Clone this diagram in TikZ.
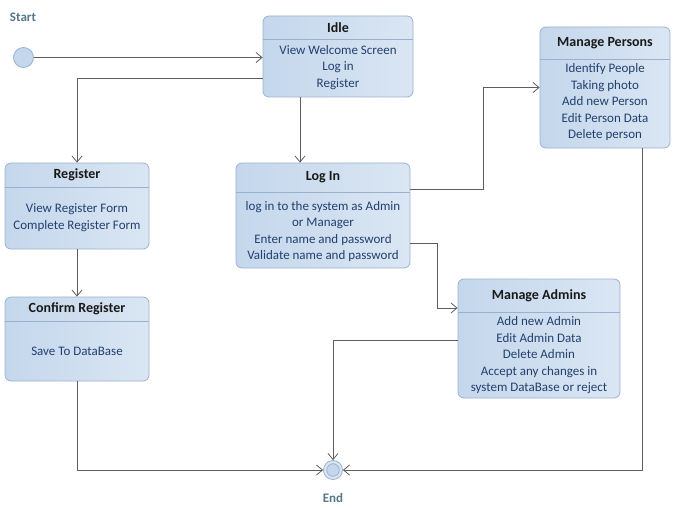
\documentclass[tikz,border=0pt]{standalone}
\usepackage{fontspec}
\setmainfont{Carlito}
\usepackage{tikz}
\usetikzlibrary{arrows.meta}
\definecolor{boxfill}{HTML}{C4D7EC}
\definecolor{boxfilllight}{HTML}{DAE6F3}
\definecolor{boxline}{HTML}{9AB1CD}
\definecolor{bodytext}{HTML}{22406E}
\definecolor{labeltext}{HTML}{56778A}
\definecolor{flowline}{HTML}{5E5E5E}
\tikzset{
  statebox/.style={draw=boxline,left color=boxfill,right color=boxfilllight,rounded corners=6pt,line width=0.8pt,inner sep=0pt},
  titlebar/.style={inner sep=0pt,anchor=north,font=\fontsize{14}{16}\selectfont\bfseries,text=black!90},
  bodytxt/.style={align=center,inner sep=0pt,text=bodytext,font=\fontsize{13}{16.5}\selectfont},
  divider/.style={draw=boxline,line width=0.7pt},
  flow/.style={draw=flowline,line width=0.8pt,-{Straight Barb[length=6pt,width=10pt]}},
  pseudo/.style={circle,draw=boxline,fill=boxfill,line width=0.8pt,minimum size=20pt,inner sep=0pt},
  pseudolabel/.style={text=labeltext,font=\fontsize{13}{15}\selectfont\bfseries}
}

\begin{document}
\begin{tikzpicture}[x=1pt,y=-1pt]
  \useasboundingbox (0,0) rectangle (674,508);
  % start and end
  \node[pseudolabel] (startlabel) at (23,17) {Start};
  \node[pseudo] (start) at (23.5,57.5) {};
  \node[pseudo,fill=boxfilllight,minimum size=19pt,
    path picture={\draw[boxline,fill=boxfill] (path picture bounding box.center) circle (6.3pt);}] (end) at (333,470) {};
  \node[pseudolabel] (endlabel) at (333,498) {End};
  % Idle
  \node[statebox,minimum width=150pt,minimum height=81pt] (idle) at (338,56.5) {};
  \node[titlebar,minimum width=150pt,minimum height=23pt] (idletitle) at (idle.north) {Idle};
  \draw[divider] (idletitle.south west) -- (idletitle.south east);
  \node[bodytxt] (idlebody) at (338,67.5) {View Welcome Screen\\Log in\\Register};
  % Manage Persons
  \node[statebox,minimum width=130pt,minimum height=121pt] (persons) at (605,87.5) {};
  \node[titlebar,minimum width=130pt,minimum height=32pt] (personstitle) at (persons.north) {Manage Persons};
  \draw[divider] (personstitle.south west) -- (personstitle.south east);
  \node[bodytxt] (personsbody) at (605,102.5) {Identify People\\Taking photo\\Add new Person\\Edit Person Data\\Delete person};
  % Register
  \node[statebox,minimum width=144pt,minimum height=86pt] (register) at (77,206) {};
  \node[titlebar,minimum width=144pt,minimum height=24pt] (registertitle) at (register.north) {Register};
  \draw[divider] (registertitle.south west) -- (registertitle.south east);
  \node[bodytxt] (registerbody) at (77,217.5) {View Register Form\\Complete Register Form};
  % Confirm Register
  \node[statebox,minimum width=144pt,minimum height=84pt] (confirm) at (77,339) {};
  \node[titlebar,minimum width=144pt,minimum height=24pt] (confirmtitle) at (confirm.north) {Confirm Register};
  \draw[divider] (confirmtitle.south west) -- (confirmtitle.south east);
  \node[bodytxt] (confirmbody) at (77,351) {Save To DataBase};
  % Log In
  \node[statebox,minimum width=174pt,minimum height=105pt] (login) at (323,215.5) {};
  \node[titlebar,minimum width=174pt,minimum height=29pt] (logintitle) at (login.north) {Log In};
  \draw[divider] (logintitle.south west) -- (logintitle.south east);
  \node[bodytxt] (loginbody) at (323,231.5) {log in to the system as Admin\\or Manager\\Enter name and password\\Validate name and password};
  % Manage Admins
  \node[statebox,minimum width=162pt,minimum height=119pt] (admins) at (539,338.5) {};
  \node[titlebar,minimum width=162pt,minimum height=33pt] (adminstitle) at (admins.north) {Manage Admins};
  \draw[divider] (adminstitle.south west) -- (adminstitle.south east);
  \node[bodytxt] (adminsbody) at (539,355.5) {Add new Admin\\Edit Admin Data\\Delete Admin\\Accept any changes in\\system DataBase or reject};
  % transitions
  \draw[flow] (start) -- (start -| idle.west);
  \draw[flow] ([yshift=-21.5pt]idle.west) -| (register.north);
  \draw[flow] ([xshift=-38pt]idle.south) -- ([xshift=-38pt]idle.south |- login.north);
  \draw[flow] (register.south) -- (confirm.north);
  \draw[flow] ([yshift=26.5pt]login.east) -- ++(73,0) |- (persons.west);
  \draw[flow] ([yshift=-27.5pt]login.east) -- ++(27,0) |- ([yshift=30.5pt]admins.west);
  \draw[flow] (confirm.south) |- (end.west);
  \draw[flow] ([yshift=-1.5pt]admins.west) -| (end.north);
  \draw[flow] ([xshift=37pt]persons.south) |- (end.east);
\end{tikzpicture}
\end{document}
